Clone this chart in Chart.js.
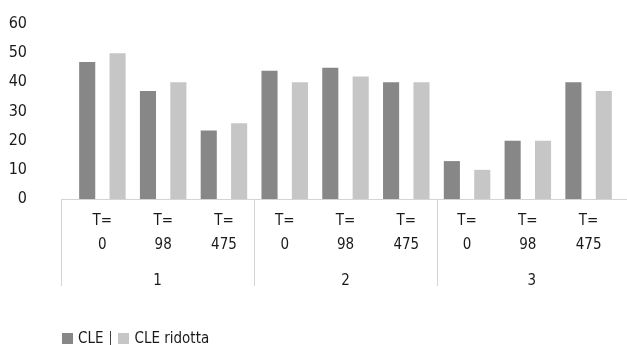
<!DOCTYPE html>
<html>
<head>
<meta charset="utf-8">
<script src="https://cdn.jsdelivr.net/npm/chart.js@4/dist/chart.umd.min.js"></script>
<style>
  html, body { margin: 0; padding: 0; background: #fff; }
  #wrap { position: relative; width: 627px; height: 345px; }
  #legend {
    position: absolute; left: 62px; top: 329px;
    display: flex; align-items: center;
    font: 15px 'DejaVu Sans Condensed', sans-serif;
    color: #1a1a1a;
  }
  #legend .item { display: flex; align-items: center; }
  #legend .box { width: 11px; height: 11px; margin-right: 5px; }
  #legend .sep { width: 1px; height: 14px; background: #444; margin: 0 7px 0 7px; }
</style>
</head>
<body>
<div id="wrap">
  <canvas id="cleChart" width="627" height="345"></canvas>
  <div id="legend"></div>
</div>
<script>
const groups = ['1', '2', '3'];
const times = ['0', '98', '475'];
const cleValues = [47, 37, 23.5, 44, 45, 40, 13, 20, 40];
const cleRidottaValues = [50, 40, 26, 40, 42, 40, 10, 20, 37];
const yTicks = [0, 10, 20, 30, 40, 50, 60];

const darkGray = '#878787';
const lightGray = '#c6c6c6';
const lineColor = '#d4d4d4';
const textColor = '#1a1a1a';
const fontFamily = "'DejaVu Sans Condensed', sans-serif";

// one category per (group, time) pair, shown as "T=" over the time
const labels = [];
groups.forEach(() => times.forEach(t => labels.push(['T=', t])));

// separators between groups plus the group number under each block
const groupAxis = {
  id: 'groupAxis',
  afterDraw(chart) {
    const { ctx, chartArea } = chart;
    const x = chart.scales.x;
    const left = chartArea.left - 11;
    const right = chart.width;
    const base = chartArea.bottom;
    const per = times.length;

    const edges = [left];
    for (let g = 1; g < groups.length; g++) {
      edges.push(x.getPixelForValue(g * per - 0.5));
    }
    edges.push(right);

    ctx.save();
    ctx.strokeStyle = lineColor;
    ctx.lineWidth = 1;
    ctx.beginPath();
    ctx.moveTo(left, base + 0.5);
    ctx.lineTo(right, base + 0.5);
    edges.slice(0, -1).forEach(px => {
      const sx = Math.round(px) + 0.5;
      ctx.moveTo(sx, base);
      ctx.lineTo(sx, base + 87);
    });
    ctx.stroke();

    ctx.fillStyle = textColor;
    ctx.font = '15px ' + fontFamily;
    ctx.textAlign = 'center';
    ctx.textBaseline = 'middle';
    groups.forEach((g, i) => {
      ctx.fillText(g, (edges[i] + edges[i + 1]) / 2, base + 82);
    });
    ctx.restore();
  }
};

const chart = new Chart(document.getElementById('cleChart'), {
  type: 'bar',
  data: {
    labels: labels,
    datasets: [
      { label: 'CLE', data: cleValues, backgroundColor: darkGray },
      { label: 'CLE ridotta', data: cleRidottaValues, backgroundColor: lightGray }
    ]
  },
  options: {
    responsive: false,
    animation: false,
    events: [],
    layout: { padding: { top: 24, right: 8, bottom: 0, left: 0 } },
    datasets: { bar: { categoryPercentage: 1.0, barPercentage: 0.53 } },
    plugins: {
      legend: { display: false },
      tooltip: { enabled: false }
    },
    scales: {
      x: {
        grid: { display: false, drawTicks: false },
        border: { display: false },
        ticks: {
          color: textColor,
          padding: 10,
          maxRotation: 0,
          autoSkip: false,
          font: { family: fontFamily, size: 15, lineHeight: 1.6 }
        },
        afterFit(scale) { scale.height = 146; }
      },
      y: {
        min: 0,
        max: 60,
        afterBuildTicks(scale) { scale.ticks = yTicks.map(v => ({ value: v })); },
        grid: { display: false, drawTicks: false },
        border: { display: false },
        ticks: {
          color: textColor,
          padding: 45,
          font: { family: fontFamily, size: 16 }
        },
        afterFit(scale) {
          scale.width = 72;
          // the wide label gap should not push the plot area down
          scale.paddingTop = 0;
          scale.paddingBottom = 0;
        }
      }
    }
  },
  plugins: [groupAxis]
});

// legend built from the datasets
const legendEl = document.getElementById('legend');
chart.data.datasets.forEach((ds, i) => {
  if (i > 0) {
    const sep = document.createElement('span');
    sep.className = 'sep';
    legendEl.appendChild(sep);
  }
  const item = document.createElement('span');
  item.className = 'item';
  const box = document.createElement('span');
  box.className = 'box';
  box.style.background = ds.backgroundColor;
  item.appendChild(box);
  item.appendChild(document.createTextNode(ds.label));
  legendEl.appendChild(item);
});
</script>
</body>
</html>
